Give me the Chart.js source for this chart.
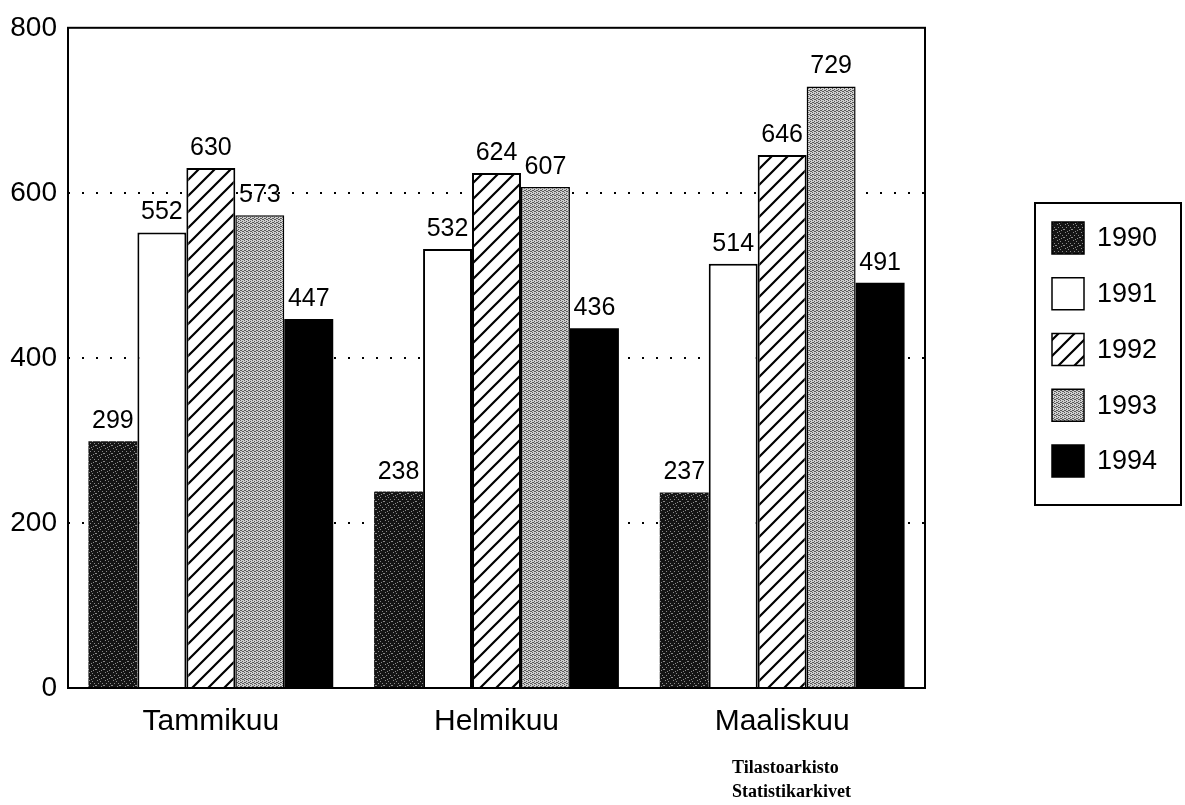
<!DOCTYPE html>
<html>
<head>
<meta charset="utf-8">
<script src="https://cdn.jsdelivr.net/npm/chart.js@4/dist/chart.umd.min.js"></script>
<style>
  html, body { margin: 0; padding: 0; background: #fff; }
  canvas { display: block; }
</style>
</head>
<body>
<canvas id="chart" width="1185" height="805"></canvas>
<script>
// datos
const meses = ['Tammikuu', 'Helmikuu', 'Maaliskuu'];
const anios = ['1990', '1991', '1992', '1993', '1994'];
const v1990 = [299, 238, 237];
const v1991 = [552, 532, 514];
const v1992 = [630, 624, 646];
const v1993 = [573, 607, 729];
const v1994 = [447, 436, 491];
const ticksY = [0, 200, 400, 600, 800];

const fuente = '"Liberation Sans", Arial, sans-serif';

// patrones de relleno
function crearPatron(tam, dibujar) {
    const c = document.createElement('canvas');
    c.width = tam;
    c.height = tam;
    const g = c.getContext('2d');
    dibujar(g, tam);
    return document.getElementById('chart').getContext('2d').createPattern(c, 'repeat');
}

const patronOscuro = crearPatron(8, (g, t) => {
    g.fillStyle = '#151515';
    g.fillRect(0, 0, t, t);
    g.fillStyle = '#8a8a8a';
    const puntos = [[1, 0], [4, 1], [6, 3], [2, 3], [0, 5], [5, 6], [3, 7], [7, 5]];
    puntos.forEach(p => g.fillRect(p[0], p[1], 1, 1));
});

const patronRayas = crearPatron(16, (g, t) => {
    g.fillStyle = '#fff';
    g.fillRect(0, 0, t, t);
    g.strokeStyle = '#000';
    g.lineWidth = 2.2;
    g.beginPath();
    g.moveTo(-2, t + 2); g.lineTo(t + 2, -2);
    g.moveTo(-2, 2); g.lineTo(2, -2);
    g.moveTo(t - 2, t + 2); g.lineTo(t + 2, t - 2);
    g.stroke();
});

const patronGris = crearPatron(4, (g, t) => {
    g.fillStyle = '#cfcfcf';
    g.fillRect(0, 0, t, t);
    g.fillStyle = '#5a5a5a';
    [[0, 0], [2, 1], [1, 2], [3, 3], [2, 3], [0, 2]].forEach(p => g.fillRect(p[0], p[1], 1, 1));
});

const valores = [v1990, v1991, v1992, v1993, v1994];
const fondos = [patronOscuro, '#ffffff', patronRayas, patronGris, '#000000'];
const bordes = [0, 2, 2, 1.5, 0];

const datasets = anios.map((anio, i) => ({
    label: anio,
    data: valores[i],
    backgroundColor: fondos[i],
    borderColor: '#000',
    borderWidth: bordes[i],
    categoryPercentage: 0.857,
    barPercentage: 1.0
}));

// marco, etiquetas, leyenda y sello
const extras = {
    id: 'extras',
    afterDatasetsDraw(chart) {
        const ctx = chart.ctx;
        const a = chart.chartArea;
        ctx.save();
        ctx.strokeStyle = '#000';
        ctx.lineWidth = 2;
        ctx.strokeRect(a.left, a.top, a.right - a.left, a.bottom - a.top);

        // valores encima de las barras
        ctx.fillStyle = '#000';
        ctx.font = '25px ' + fuente;
        ctx.textAlign = 'center';
        ctx.textBaseline = 'alphabetic';
        chart.data.datasets.forEach((ds, i) => {
            chart.getDatasetMeta(i).data.forEach((barra, j) => {
                ctx.fillText(String(ds.data[j]), barra.x, barra.y - 13);
            });
        });

        // leyenda
        ctx.lineWidth = 2;
        ctx.strokeRect(1035, 203, 146, 302);
        ctx.font = '27px ' + fuente;
        ctx.textAlign = 'left';
        ctx.textBaseline = 'middle';
        chart.data.datasets.forEach((ds, i) => {
            const y = 222 + i * 55.75;
            ctx.fillStyle = ds.backgroundColor;
            ctx.fillRect(1052, y, 32, 32);
            ctx.lineWidth = 1.5;
            ctx.strokeRect(1052, y, 32, 32);
            ctx.fillStyle = '#000';
            ctx.fillText(ds.label, 1097, y + 17);
        });

        // sello
        ctx.font = 'bold 18px "Liberation Serif", "DejaVu Serif", serif';
        ctx.fillStyle = '#000';
        ctx.textBaseline = 'alphabetic';
        ctx.fillText('Tilastoarkisto', 732, 773);
        ctx.fillText('Statistikarkivet', 732, 797);
        ctx.restore();
    }
};

new Chart(document.getElementById('chart'), {
    type: 'bar',
    data: {
        labels: meses,
        datasets: datasets
    },
    options: {
        responsive: false,
        animation: false,
        devicePixelRatio: 1,
        layout: {
            padding: { left: 0, top: 26, right: 260, bottom: 0 }
        },
        plugins: {
            legend: { display: false },
            tooltip: { enabled: false }
        },
        scales: {
            x: {
                grid: { display: false },
                border: { display: false },
                ticks: {
                    color: '#000',
                    font: { family: fuente, size: 30 },
                    padding: 8,
                    maxRotation: 0
                },
                afterFit(scale) { scale.height = 117; }
            },
            y: {
                min: ticksY[0],
                max: ticksY[ticksY.length - 1],
                afterBuildTicks(scale) {
                    scale.ticks = ticksY.map(v => ({ value: v }));
                },
                grid: {
                    drawTicks: false,
                    lineWidth: 2,
                    color: c => (c.tick && (c.tick.value === 0 || c.tick.value === 800)) ? 'rgba(0,0,0,0)' : '#000'
                },
                border: { display: false, dash: [2, 12] },
                ticks: {
                    color: '#000',
                    font: { family: fuente, size: 28 },
                    padding: 11
                },
                afterFit(scale) { scale.width = 68; }
            }
        }
    },
    plugins: [extras]
});
</script>
</body>
</html>
